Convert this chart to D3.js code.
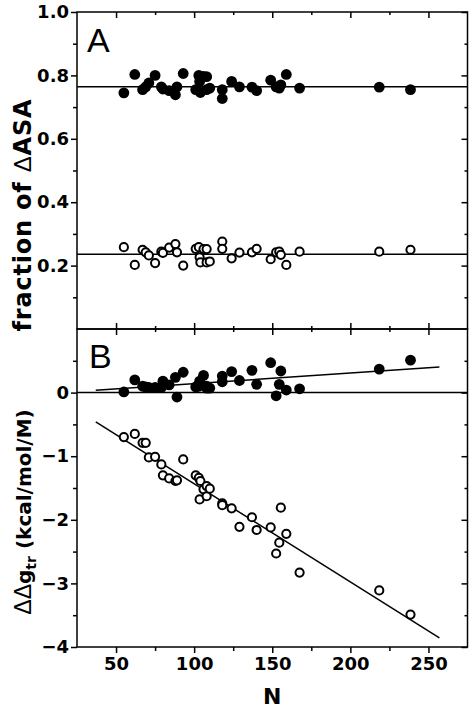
<!DOCTYPE html>
<html><head><meta charset="utf-8">
<script src="https://cdn.jsdelivr.net/npm/d3@7"></script>
<style>body{margin:0;background:#fff}svg{display:block}</style>
</head><body>
<script>
// Data
const N      = [55,62,67,69,71,75,79,80,84,88,89,93,101,103,103.5,104,106,108,108,110,118,118,124,129,137,140,149,152.5,154.5,155.5,159,167.5,218.5,238.5];
const fracFilled = [0.745,0.803,0.755,0.764,0.776,0.800,0.764,0.757,0.752,0.739,0.764,0.806,0.755,0.800,0.781,0.746,0.797,0.755,0.796,0.760,0.755,0.727,0.781,0.764,0.763,0.752,0.785,0.764,0.760,0.770,0.803,0.760,0.763,0.755];
const fracOpen   = [0.258,0.202,0.250,0.242,0.232,0.208,0.244,0.240,0.257,0.268,0.242,0.200,0.253,0.258,0.226,0.210,0.252,0.210,0.252,0.213,0.276,0.253,0.223,0.241,0.242,0.253,0.220,0.242,0.244,0.234,0.202,0.244,0.244,0.250];
const ddgFilled  = [0.01,0.20,0.10,0.09,0.08,0.08,0.08,0.18,0.12,0.24,-0.07,0.32,0.09,0.10,0.18,0.12,0.27,0.07,0.10,0.07,0.26,0.17,0.33,0.19,0.35,0.13,0.47,-0.05,0.13,0.34,0.04,0.06,0.37,0.51];
const ddgOpen    = [-0.70,-0.65,-0.79,-0.79,-1.02,-1.01,-1.13,-1.30,-1.35,-1.39,-1.38,-1.05,-1.30,-1.34,-1.68,-1.39,-1.52,-1.47,-1.63,-1.51,-1.74,-1.77,-1.82,-2.11,-1.96,-2.16,-2.12,-2.53,-2.36,-1.81,-2.22,-2.83,-3.11,-3.49];
const fracMeans  = [0.764, 0.236];
const fitFilled  = {slope:0.00166, intercept:-0.025, from:37, to:257};
const fitOpen    = {slope:-0.01543, intercept:0.109, from:37, to:257};
const xTicks = [50,100,150,200,250];
const yTicksA = [0.2,0.4,0.6,0.8,1.0];
const yTicksB = [0,-1,-2,-3,-4];

const W=471,H=717;
const BOLD="'DejaVu Sans',sans-serif";
const REG="'Liberation Sans',Arial,sans-serif";
const svg=d3.select("body").append("svg").attr("width",W).attr("height",H);
const L=77,R=467.5;
const x=d3.scaleLinear().domain([25,275]).range([L,R]);
const yA=d3.scaleLinear().domain([0,1]).range([329,12]);
const yB=d3.scaleLinear().domain([-4,1]).range([647,329]);

function axes(y, yt, yMinor, labelFmt, bottomOut){
  const g=svg.append("g");
  const r0=y.range()[0], r1=y.range()[1];
  const la=g.append("g").attr("transform",`translate(${L},0)`)
    .call(d3.axisLeft(y).tickValues(yt).tickSize(6).tickFormat(labelFmt).tickPadding(2));
  la.select(".domain").remove();
  g.append("g").attr("transform",`translate(${L},0)`)
    .call(d3.axisLeft(y).tickValues(yMinor).tickSize(4).tickFormat(""))
    .select(".domain").remove();
  g.append("g").attr("transform",`translate(${R},0)`)
    .call(d3.axisLeft(y).tickValues(yt).tickSize(6).tickFormat("")).select(".domain").remove();
  g.append("g").attr("transform",`translate(${R},0)`)
    .call(d3.axisLeft(y).tickValues(yMinor).tickSize(3).tickFormat("")).select(".domain").remove();
  g.append("g").attr("transform",`translate(0,${r1})`)
    .call(d3.axisBottom(x).tickValues(xTicks).tickSize(6).tickFormat("")).select(".domain").remove();
  g.append("g").attr("transform",`translate(0,${r1})`)
    .call(d3.axisBottom(x).tickValues([75,125,175,225]).tickSize(3).tickFormat("")).select(".domain").remove();
  if(bottomOut){
    const ba=g.append("g").attr("transform",`translate(0,${r0})`)
      .call(d3.axisBottom(x).tickValues(xTicks).tickSize(6).tickPadding(4).tickFormat(d3.format("d")));
    ba.select(".domain").remove();
    g.append("g").attr("transform",`translate(0,${r0})`)
      .call(d3.axisBottom(x).tickValues([75,125,175,225]).tickSize(4).tickFormat("")).select(".domain").remove();
  } else {
    g.append("g").attr("transform",`translate(0,${r0})`)
      .call(d3.axisTop(x).tickValues(xTicks).tickSize(6).tickFormat("")).select(".domain").remove();
    g.append("g").attr("transform",`translate(0,${r0})`)
      .call(d3.axisTop(x).tickValues([75,125,175,225]).tickSize(3).tickFormat("")).select(".domain").remove();
  }
  g.selectAll(".tick line").attr("stroke","#000").attr("stroke-width",1.5);
  g.selectAll(".tick text").style("font-size","18px").style("font-weight","bold").attr("fill","#000")
    .style("font-family",BOLD);
  g.append("rect").attr("x",L).attr("y",r1).attr("width",R-L).attr("height",r0-r1)
    .attr("fill","none").attr("stroke","#000").attr("stroke-width",1.5);
  return g;
}

axes(yA, yTicksA, [0.1,0.3,0.5,0.7,0.9], d3.format(".1f"), false);
axes(yB, yTicksB, [0.5,-0.5,-1.5,-2.5,-3.5], d=>d===0?"0":d3.format("d")(d), true);

svg.selectAll(".meanA").data(fracMeans).enter().append("line")
  .attr("x1",L).attr("x2",R).attr("y1",d=>yA(d)).attr("y2",d=>yA(d))
  .attr("stroke","#000").attr("stroke-width",1.5);
svg.append("line").attr("x1",L).attr("x2",R).attr("y1",yB(0)).attr("y2",yB(0))
  .attr("stroke","#000").attr("stroke-width",1.5);
[fitFilled,fitOpen].forEach(f=>{
  svg.append("line").attr("x1",x(f.from)).attr("x2",x(f.to))
    .attr("y1",yB(f.intercept+f.slope*f.from)).attr("y2",yB(f.intercept+f.slope*f.to))
    .attr("stroke","#000").attr("stroke-width",1.5);
});

const idx=d3.range(N.length);
function filled(vals,y){
  svg.append("g").selectAll("circle").data(idx).enter().append("circle")
    .attr("cx",i=>x(N[i])).attr("cy",i=>y(vals[i])).attr("r",5.4).attr("fill","#000");
}
function open(vals,y){
  svg.append("g").selectAll("circle").data(idx).enter().append("circle")
    .attr("cx",i=>x(N[i])).attr("cy",i=>y(vals[i])).attr("r",4.1)
    .attr("fill","#fff").attr("stroke","#000").attr("stroke-width",2);
}
filled(fracFilled,yA); open(fracOpen,yA);
filled(ddgFilled,yB); open(ddgOpen,yB);

svg.append("text").attr("x",87).attr("y",52).style("font-family",REG).style("font-size","34px").text("A");
svg.append("text").attr("x",89).attr("y",368).style("font-family",REG).style("font-size","34px").text("B");

svg.append("text").attr("x",(L+R)/2).attr("y",704).attr("text-anchor","middle")
  .style("font-size","22px").style("font-weight","bold").style("font-family",BOLD).text("N");
const t1=svg.append("text").attr("transform","translate(31,215) rotate(-90)").attr("text-anchor","middle")
  .style("font-size","24px").style("font-weight","bold").style("font-family",BOLD).style("letter-spacing","0.8px");
t1.append("tspan").text("fraction of ");
t1.append("tspan").style("font-weight","normal").style("font-family",REG).text("\u0394");
t1.append("tspan").text("ASA");
const t2=svg.append("text").attr("transform","translate(31,512) rotate(-90)").attr("text-anchor","middle")
  .style("font-size","20px").style("font-weight","bold").style("font-family",BOLD);
t2.append("tspan").style("font-weight","normal").style("font-family",REG).style("font-size","23px").text("\u0394\u0394");
t2.append("tspan").text("g");
t2.append("tspan").style("font-size","14px").attr("dy",5).text("tr");
t2.append("tspan").attr("dy",-5).text(" (kcal/mol/M)");
</script>
</body></html>
